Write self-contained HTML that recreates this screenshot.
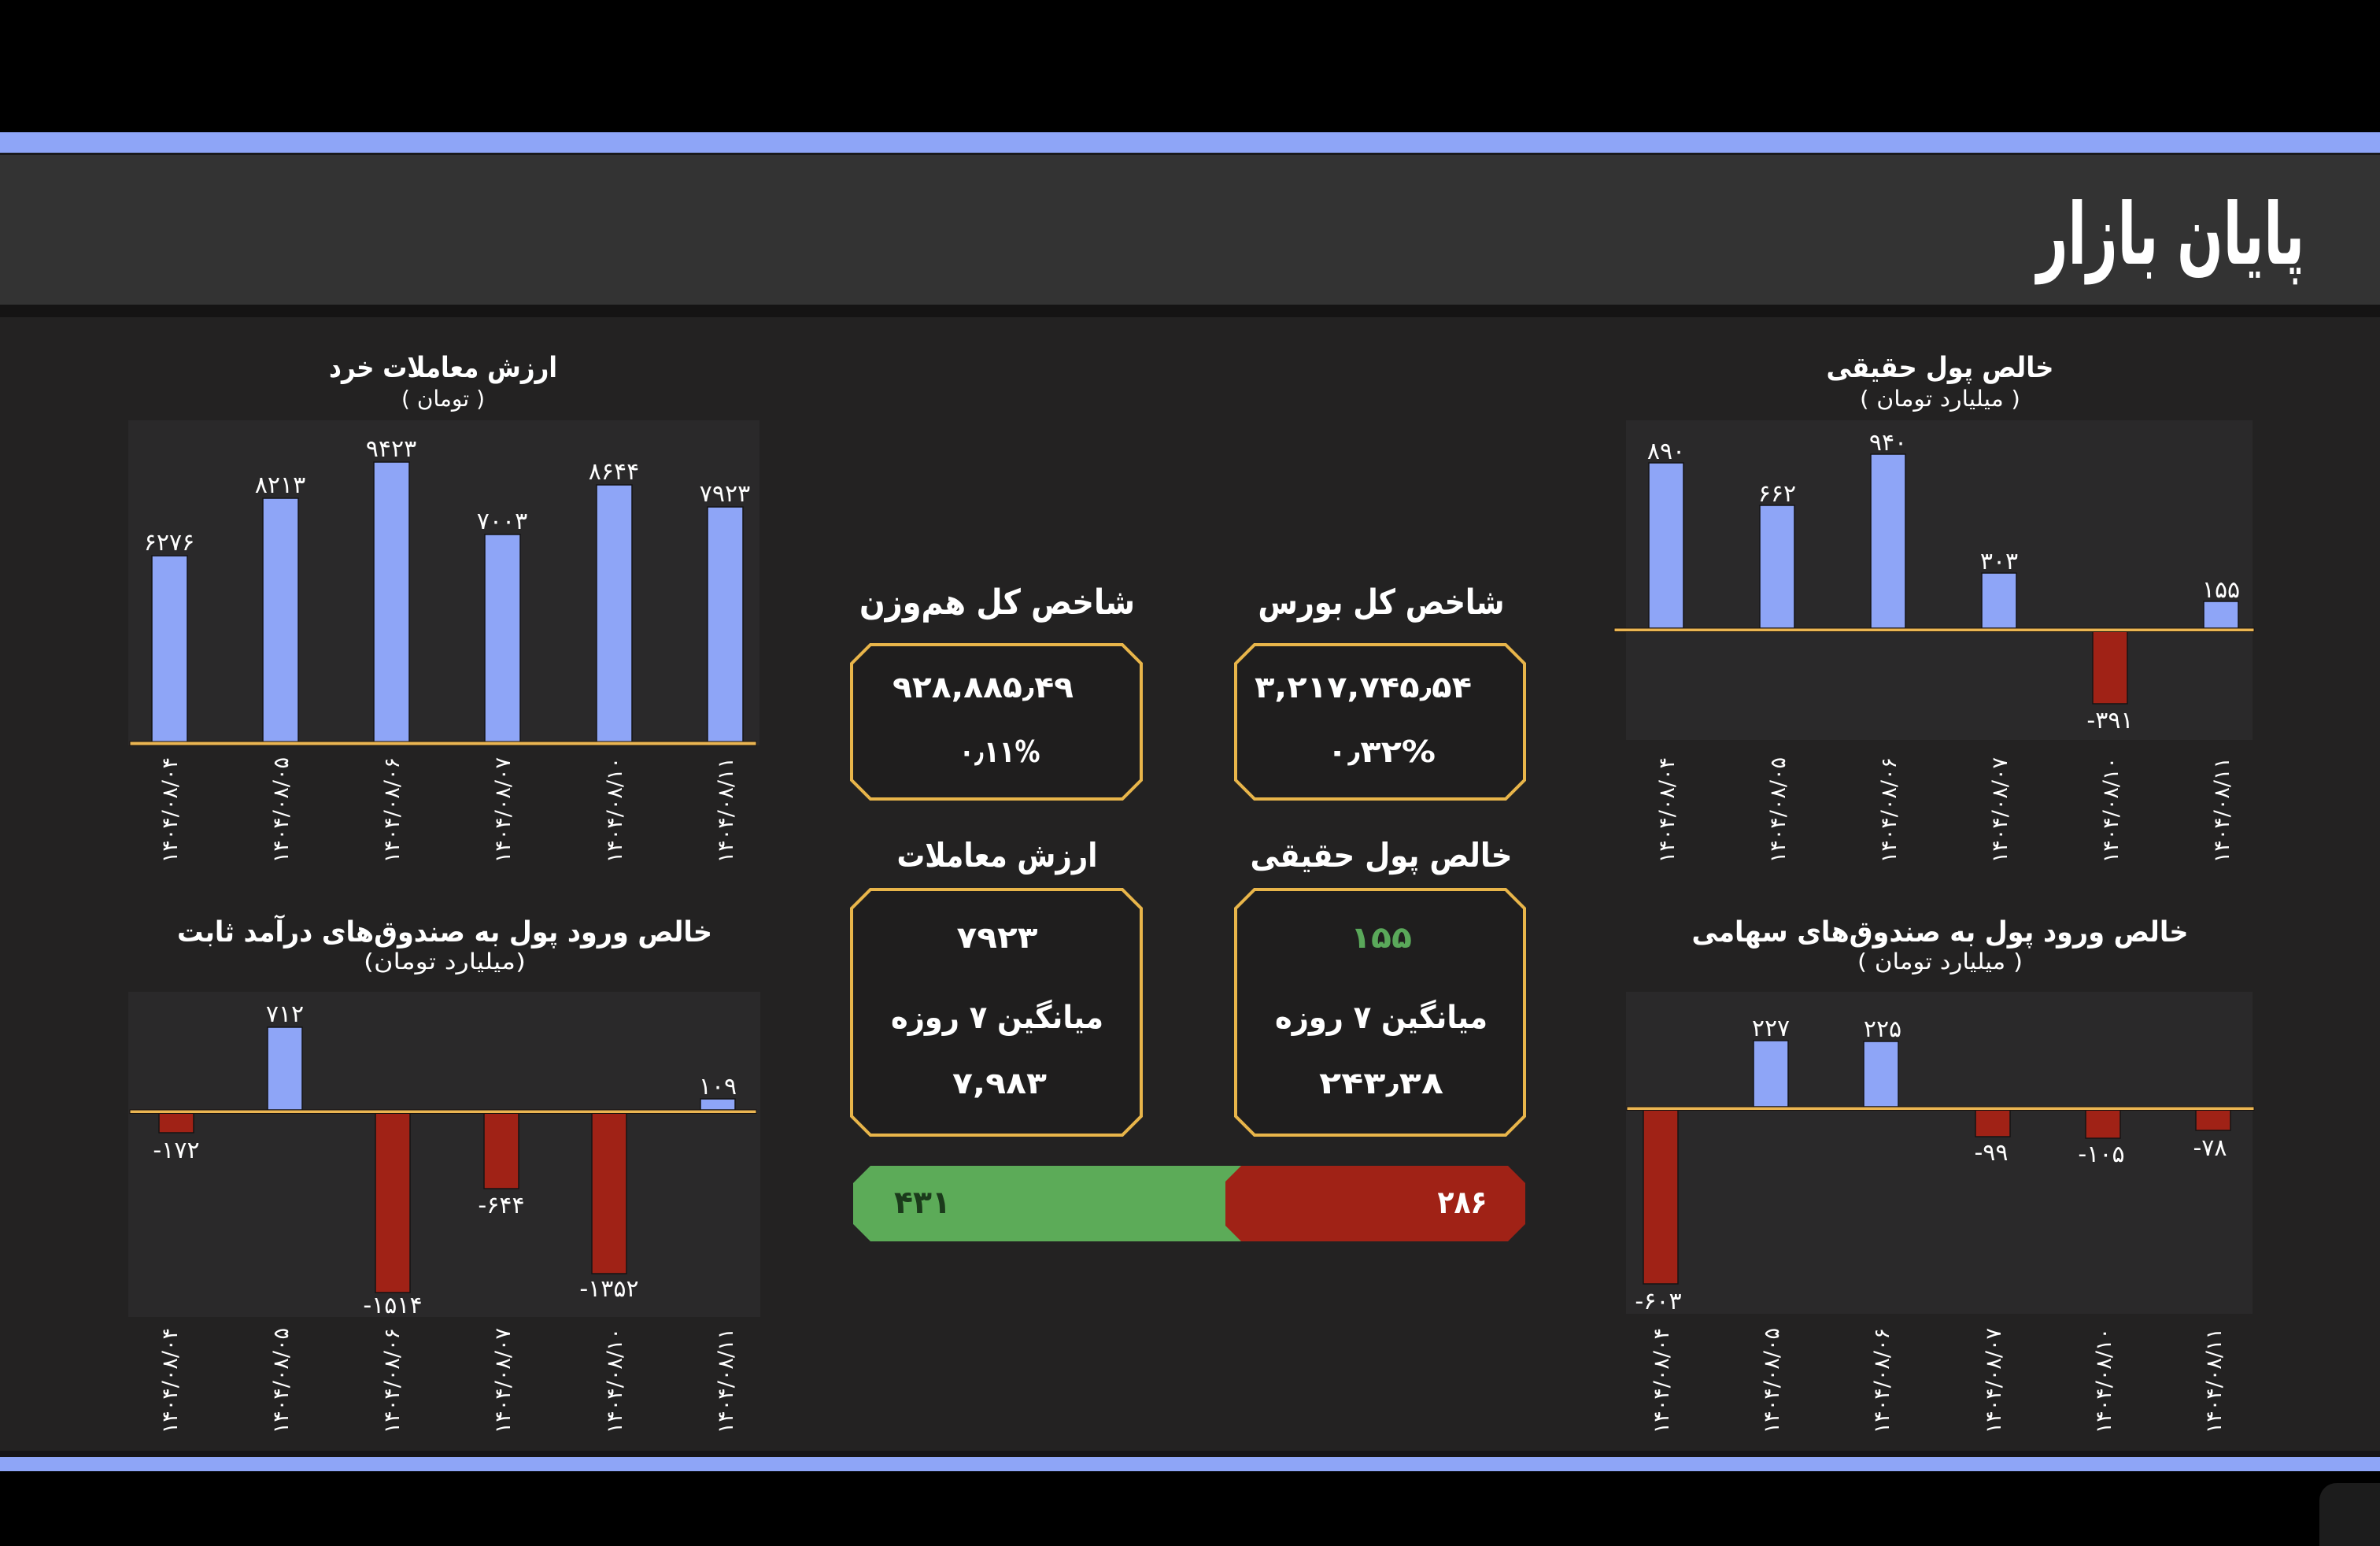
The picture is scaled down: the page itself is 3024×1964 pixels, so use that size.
<!DOCTYPE html>
<html><head><meta charset="utf-8"><style>
html,body{margin:0;padding:0;background:#000;}
svg{display:block;}
.t{font-family:"DejaVu Sans","Liberation Sans",sans-serif;fill:#fff;}
.b{font-weight:bold;}
</style></head><body>
<svg width="3024" height="1964" viewBox="0 0 3024 1964" xmlns="http://www.w3.org/2000/svg">
<rect x="0" y="0" width="3024" height="1964" fill="#000"/>
<rect x="0" y="168" width="3024" height="26" fill="#8ea5f7"/>
<rect x="0" y="194" width="3024" height="3" fill="#1a1a1c"/>
<rect x="0" y="197" width="3024" height="190" fill="#333333"/>
<rect x="0" y="387" width="3024" height="16" fill="#151414"/>
<rect x="0" y="403" width="3024" height="1440" fill="#232222"/>
<rect x="0" y="1843" width="3024" height="8" fill="#161518"/>
<rect x="0" y="1851" width="3024" height="18" fill="#8ea5f7"/>
<rect x="2947" y="1884" width="120" height="120" rx="22" fill="#1c1c1c"/>

<text class="t b" x="2758" y="335" font-size="108" text-anchor="middle" direction="rtl" textLength="340" lengthAdjust="spacingAndGlyphs">پایان بازار</text>

<!-- Chart A: top-left -->
<text class="t b" x="563" y="479" font-size="36" text-anchor="middle" direction="rtl" textLength="290" lengthAdjust="spacingAndGlyphs">ارزش معاملات خرد</text>
<text class="t" x="563" y="516" font-size="28" text-anchor="middle" direction="rtl" textLength="106" lengthAdjust="spacingAndGlyphs">( تومان )</text>
<rect x="163" y="534" width="802" height="413" fill="#2a292a"/>
<g fill="#8ea5f7" stroke="#141414" stroke-width="1.5">
<rect x="193" y="706" width="45" height="239"/>
<rect x="334" y="633" width="45" height="312"/>
<rect x="475" y="587" width="45" height="358"/>
<rect x="616" y="679" width="45" height="266"/>
<rect x="758" y="616" width="45" height="329"/>
<rect x="899" y="644" width="45" height="301"/>
</g>
<rect x="165" y="942" width="796" height="5" fill="#eab552" stroke="#1a1410" stroke-width="1"/>
<g class="t" font-size="30" text-anchor="middle">
<text x="215" y="699">۶۲۷۶</text>
<text x="356" y="626">۸۲۱۳</text>
<text x="497" y="580">۹۴۲۳</text>
<text x="638" y="672">۷۰۰۳</text>
<text x="780" y="609">۸۶۴۴</text>
<text x="921" y="637">۷۹۲۳</text>
</g>
<g class="t" font-size="27" text-anchor="end">
<text transform="translate(225,962) rotate(-90)">۱۴۰۴/۰۸/۰۴</text>
<text transform="translate(366,962) rotate(-90)">۱۴۰۴/۰۸/۰۵</text>
<text transform="translate(507,962) rotate(-90)">۱۴۰۴/۰۸/۰۶</text>
<text transform="translate(648,962) rotate(-90)">۱۴۰۴/۰۸/۰۷</text>
<text transform="translate(790,962) rotate(-90)">۱۴۰۴/۰۸/۱۰</text>
<text transform="translate(931,962) rotate(-90)">۱۴۰۴/۰۸/۱۱</text>
</g>

<!-- Chart B: top-right -->
<text class="t b" x="2465" y="479" font-size="36" text-anchor="middle" direction="rtl" textLength="289" lengthAdjust="spacingAndGlyphs">خالص پول حقیقی</text>
<text class="t" x="2465" y="516" font-size="28" text-anchor="middle" direction="rtl" textLength="204" lengthAdjust="spacingAndGlyphs">( میلیارد تومان )</text>
<rect x="2066" y="534" width="796" height="406" fill="#2a292a"/>
<g fill="#8ea5f7" stroke="#141414" stroke-width="1.5">
<rect x="2095" y="588" width="44" height="210"/>
<rect x="2236" y="642" width="44" height="156"/>
<rect x="2377" y="577" width="44" height="221"/>
<rect x="2518" y="728" width="44" height="70"/>
<rect x="2800" y="764" width="44" height="34"/>
</g>
<rect x="2659" y="802" width="44" height="92" fill="#a02216" stroke="#141414" stroke-width="1.5"/>
<rect x="2051" y="798" width="813" height="4.5" fill="#eab552" stroke="#1a1410" stroke-width="1"/>
<g class="t" font-size="30" text-anchor="middle">
<text x="2117" y="583">۸۹۰</text>
<text x="2258" y="637">۶۶۲</text>
<text x="2399" y="572">۹۴۰</text>
<text x="2540" y="723">۳۰۳</text>
<text x="2681" y="925">-۳۹۱</text>
<text x="2822" y="759">۱۵۵</text>
</g>
<g class="t" font-size="27" text-anchor="end">
<text transform="translate(2127,962) rotate(-90)">۱۴۰۴/۰۸/۰۴</text>
<text transform="translate(2268,962) rotate(-90)">۱۴۰۴/۰۸/۰۵</text>
<text transform="translate(2409,962) rotate(-90)">۱۴۰۴/۰۸/۰۶</text>
<text transform="translate(2550,962) rotate(-90)">۱۴۰۴/۰۸/۰۷</text>
<text transform="translate(2691,962) rotate(-90)">۱۴۰۴/۰۸/۱۰</text>
<text transform="translate(2832,962) rotate(-90)">۱۴۰۴/۰۸/۱۱</text>
</g>

<!-- Chart C: bottom-left -->
<text class="t b" x="565" y="1196" font-size="36" text-anchor="middle" direction="rtl" textLength="680" lengthAdjust="spacingAndGlyphs">خالص ورود پول به صندوق‌های درآمد ثابت</text>
<text class="t" x="565" y="1231" font-size="28" text-anchor="middle" direction="rtl" textLength="206" lengthAdjust="spacingAndGlyphs">(میلیارد  تومان)</text>
<rect x="163" y="1260" width="803" height="413" fill="#2a292a"/>
<g fill="#8ea5f7" stroke="#141414" stroke-width="1.5">
<rect x="340" y="1305" width="44" height="105"/>
<rect x="890" y="1396" width="44" height="14"/>
</g>
<g fill="#a02216" stroke="#141414" stroke-width="1.5">
<rect x="202" y="1414" width="44" height="25"/>
<rect x="477" y="1414" width="44" height="228"/>
<rect x="615" y="1414" width="44" height="96"/>
<rect x="752" y="1414" width="44" height="204"/>
</g>
<rect x="165" y="1410" width="796" height="4.5" fill="#eab552" stroke="#1a1410" stroke-width="1"/>
<g class="t" font-size="30" text-anchor="middle">
<text x="224" y="1471">-۱۷۲</text>
<text x="362" y="1298">۷۱۲</text>
<text x="499" y="1668">-۱۵۱۴</text>
<text x="637" y="1541">-۶۴۴</text>
<text x="774" y="1647">-۱۳۵۲</text>
<text x="912" y="1390">۱۰۹</text>
</g>
<g class="t" font-size="27" text-anchor="end">
<text transform="translate(225,1687) rotate(-90)">۱۴۰۴/۰۸/۰۴</text>
<text transform="translate(366,1687) rotate(-90)">۱۴۰۴/۰۸/۰۵</text>
<text transform="translate(507,1687) rotate(-90)">۱۴۰۴/۰۸/۰۶</text>
<text transform="translate(648,1687) rotate(-90)">۱۴۰۴/۰۸/۰۷</text>
<text transform="translate(790,1687) rotate(-90)">۱۴۰۴/۰۸/۱۰</text>
<text transform="translate(931,1687) rotate(-90)">۱۴۰۴/۰۸/۱۱</text>
</g>

<!-- Chart D: bottom-right -->
<text class="t b" x="2465" y="1196" font-size="36" text-anchor="middle" direction="rtl" textLength="631" lengthAdjust="spacingAndGlyphs">خالص ورود پول به صندوق‌های سهامی</text>
<text class="t" x="2465" y="1231" font-size="28" text-anchor="middle" direction="rtl" textLength="210" lengthAdjust="spacingAndGlyphs">( میلیارد تومان )</text>
<rect x="2066" y="1260" width="796" height="409" fill="#2a292a"/>
<g fill="#8ea5f7" stroke="#141414" stroke-width="1.5">
<rect x="2228" y="1322" width="44" height="84"/>
<rect x="2368" y="1323" width="44" height="83"/>
</g>
<g fill="#a02216" stroke="#141414" stroke-width="1.5">
<rect x="2088" y="1410" width="44" height="221"/>
<rect x="2510" y="1410" width="44" height="34"/>
<rect x="2650" y="1410" width="44" height="36"/>
<rect x="2790" y="1410" width="44" height="26"/>
</g>
<rect x="2067" y="1406" width="797" height="4.5" fill="#eab552" stroke="#1a1410" stroke-width="1"/>
<g class="t" font-size="30" text-anchor="middle">
<text x="2107" y="1663">-۶۰۳</text>
<text x="2250" y="1316">۲۲۷</text>
<text x="2392" y="1317">۲۲۵</text>
<text x="2530" y="1474">-۹۹</text>
<text x="2670" y="1476">-۱۰۵</text>
<text x="2808" y="1468">-۷۸</text>
</g>
<g class="t" font-size="27" text-anchor="end">
<text transform="translate(2120,1687) rotate(-90)">۱۴۰۴/۰۸/۰۴</text>
<text transform="translate(2260,1687) rotate(-90)">۱۴۰۴/۰۸/۰۵</text>
<text transform="translate(2400,1687) rotate(-90)">۱۴۰۴/۰۸/۰۶</text>
<text transform="translate(2542,1687) rotate(-90)">۱۴۰۴/۰۸/۰۷</text>
<text transform="translate(2682,1687) rotate(-90)">۱۴۰۴/۰۸/۱۰</text>
<text transform="translate(2822,1687) rotate(-90)">۱۴۰۴/۰۸/۱۱</text>
</g>

<!-- Center -->
<text class="t b" x="1755" y="780" font-size="44" text-anchor="middle" direction="rtl" textLength="313" lengthAdjust="spacingAndGlyphs">شاخص کل بورس</text>
<text class="t b" x="1267" y="780" font-size="44" text-anchor="middle" direction="rtl" textLength="350" lengthAdjust="spacingAndGlyphs">شاخص کل هم‌وزن</text>
<g fill="#1f1e1e" stroke="#e8b54a" stroke-width="4">
<polygon points="1106,819 1426,819 1450,843 1450,991 1426,1015 1106,1015 1082,991 1082,843"/>
<polygon points="1594,819 1913,819 1937,843 1937,991 1913,1015 1594,1015 1570,991 1570,843"/>
<polygon points="1106,1130 1426,1130 1450,1154 1450,1418 1426,1442 1106,1442 1082,1418 1082,1154"/>
<polygon points="1594,1130 1913,1130 1937,1154 1937,1418 1913,1442 1594,1442 1570,1418 1570,1154"/>
</g>
<g class="t b" font-size="38" text-anchor="middle">
<text x="1732" y="886" textLength="276" lengthAdjust="spacingAndGlyphs">۳,۲۱۷,۷۴۵٫۵۴</text>
<text x="1755" y="968" textLength="138" lengthAdjust="spacingAndGlyphs">۰٫۳۲%</text>
<text x="1249" y="886" textLength="230" lengthAdjust="spacingAndGlyphs">۹۲۸,۸۸۵٫۴۹</text>
<text x="1270" y="968" textLength="103" lengthAdjust="spacingAndGlyphs">۰٫۱۱%</text>
</g>
<text class="t b" x="1755" y="1101" font-size="42" text-anchor="middle" direction="rtl" textLength="333" lengthAdjust="spacingAndGlyphs">خالص پول حقیقی</text>
<text class="t b" x="1267" y="1101" font-size="42" text-anchor="middle" direction="rtl" textLength="255" lengthAdjust="spacingAndGlyphs">ارزش معاملات</text>
<g class="t b" font-size="38" text-anchor="middle">
<text x="1755" y="1204" style="fill:#5aa85a" textLength="78" lengthAdjust="spacingAndGlyphs">۱۵۵</text>
<text x="1267" y="1204" textLength="103" lengthAdjust="spacingAndGlyphs">۷۹۲۳</text>
<text x="1755" y="1389" textLength="158" lengthAdjust="spacingAndGlyphs">۲۴۳٫۳۸</text>
<text x="1270" y="1389" textLength="120" lengthAdjust="spacingAndGlyphs">۷,۹۸۳</text>
</g>
<text class="t b" x="1755" y="1306" font-size="40" text-anchor="middle" direction="rtl" textLength="270" lengthAdjust="spacingAndGlyphs">میانگین ۷ روزه</text>
<text class="t b" x="1267" y="1306" font-size="40" text-anchor="middle" direction="rtl" textLength="270" lengthAdjust="spacingAndGlyphs">میانگین ۷ روزه</text>

<polygon points="1106,1481 1620,1481 1620,1577 1106,1577 1084,1555 1084,1503" fill="#5cab58"/>
<polygon points="1577,1481 1916,1481 1938,1503 1938,1555 1916,1577 1577,1577 1557,1557 1557,1501" fill="#a02216"/>
<text class="t b" x="1172" y="1541" font-size="40" text-anchor="middle" style="fill:#1b3a1b" textLength="72" lengthAdjust="spacingAndGlyphs">۴۳۱</text>
<text class="t b" x="1858" y="1541" font-size="40" text-anchor="middle" textLength="63" lengthAdjust="spacingAndGlyphs">۲۸۶</text>
</svg>
</body></html>
